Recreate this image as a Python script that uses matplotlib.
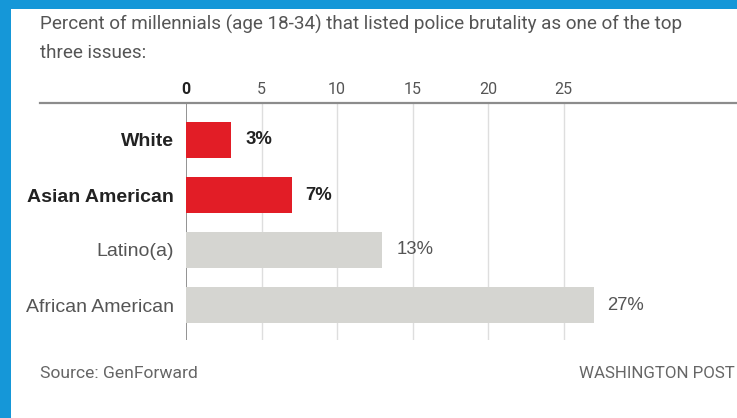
import matplotlib.pyplot as plt
from matplotlib.patches import Rectangle
from matplotlib.lines import Line2D

groups = ['White', 'Asian American', 'Latino(a)', 'African American']
percent = [3, 7, 13, 27]
highlight = [True, True, False, False]
ticks = [0, 5, 10, 15, 20, 25]

W, H = 737, 418
RED = '#e21d26'
GREY_BAR = '#d5d5d1'
BLUE = '#1597d8'

fig = plt.figure(figsize=(W / 100, H / 100), dpi=100, facecolor=BLUE)

# white card on the blue background
fig.patches.append(Rectangle((11 / W, 0), 1, 1 - 9 / H,
                             transform=fig.transFigure, facecolor='white',
                             edgecolor='none', zorder=-5))

def px(x, y):
    return x / W, 1 - y / H

title_font = ['Roboto', 'DejaVu Sans']
body_font = ['Liberation Sans', 'DejaVu Sans']

fig.text(*px(40, 24), 'Percent of millennials (age 18-34) that listed police brutality as one of the top',
         fontsize=13.6, color='#555555', family=title_font, va='center')
fig.text(*px(40, 53), 'three issues:', fontsize=13.6, color='#555555',
         family=title_font, va='center')

x0, x1 = 186, 737
y0, y1 = 103, 340
unit = 15.1
ax = fig.add_axes([x0 / W, 1 - y1 / H, (x1 - x0) / W, (y1 - y0) / H])
ax.set_facecolor('none')
ax.set_xlim(0, (x1 - x0) / unit)
ax.set_ylim(3 + 35 / 55, -37 / 55)

pos = list(range(len(groups)))
colors = [RED if h else GREY_BAR for h in highlight]
ax.barh(pos, percent, height=0.65, color=colors, zorder=2)

for t in ticks:
    ax.axvline(t, color='#8a8a8a' if t == 0 else '#dedede', lw=1.3 if t == 0 else 1, zorder=1)

for sp in ax.spines.values():
    sp.set_visible(False)

# rule along the top, running out under the labels
ax.add_line(Line2D([(40 - x0) / (x1 - x0), 1], [1, 1], transform=ax.transAxes,
                   color='#8c8c8c', lw=1.6, clip_on=False))

ax.xaxis.tick_top()
ax.set_xticks(ticks)
ax.set_xticklabels([str(t) for t in ticks], family=title_font, fontsize=11.5, color='#555555')
ax.get_xticklabels()[0].set_fontweight('bold')
ax.get_xticklabels()[0].set_color('#222222')
ax.tick_params(axis='x', length=0, pad=4)

ax.set_yticks(pos)
ax.set_yticklabels(groups, family=body_font, fontsize=14)
ax.tick_params(axis='y', length=0, pad=9)
for lab, h in zip(ax.get_yticklabels(), highlight):
    lab.set_fontweight('bold' if h else 'normal')
    lab.set_color('#222222' if h else '#555555')

for p, v, h in zip(pos, percent, highlight):
    ax.annotate(f'{v}%', (v, p), xytext=(10, 0), textcoords='offset points',
                va='center', ha='left', family=body_font, fontsize=13.3,
                fontweight='bold' if h else 'normal',
                color='#222222' if h else '#555555')

fig.text(*px(40, 374), 'Source: GenForward', fontsize=12.6, color='#666666',
         family=title_font, va='center')
fig.text(*px(735, 374), 'WASHINGTON POST', fontsize=12.2, color='#666666',
         family=title_font, va='center', ha='right')

fig.savefig('out.png', dpi=100, facecolor=fig.get_facecolor())
